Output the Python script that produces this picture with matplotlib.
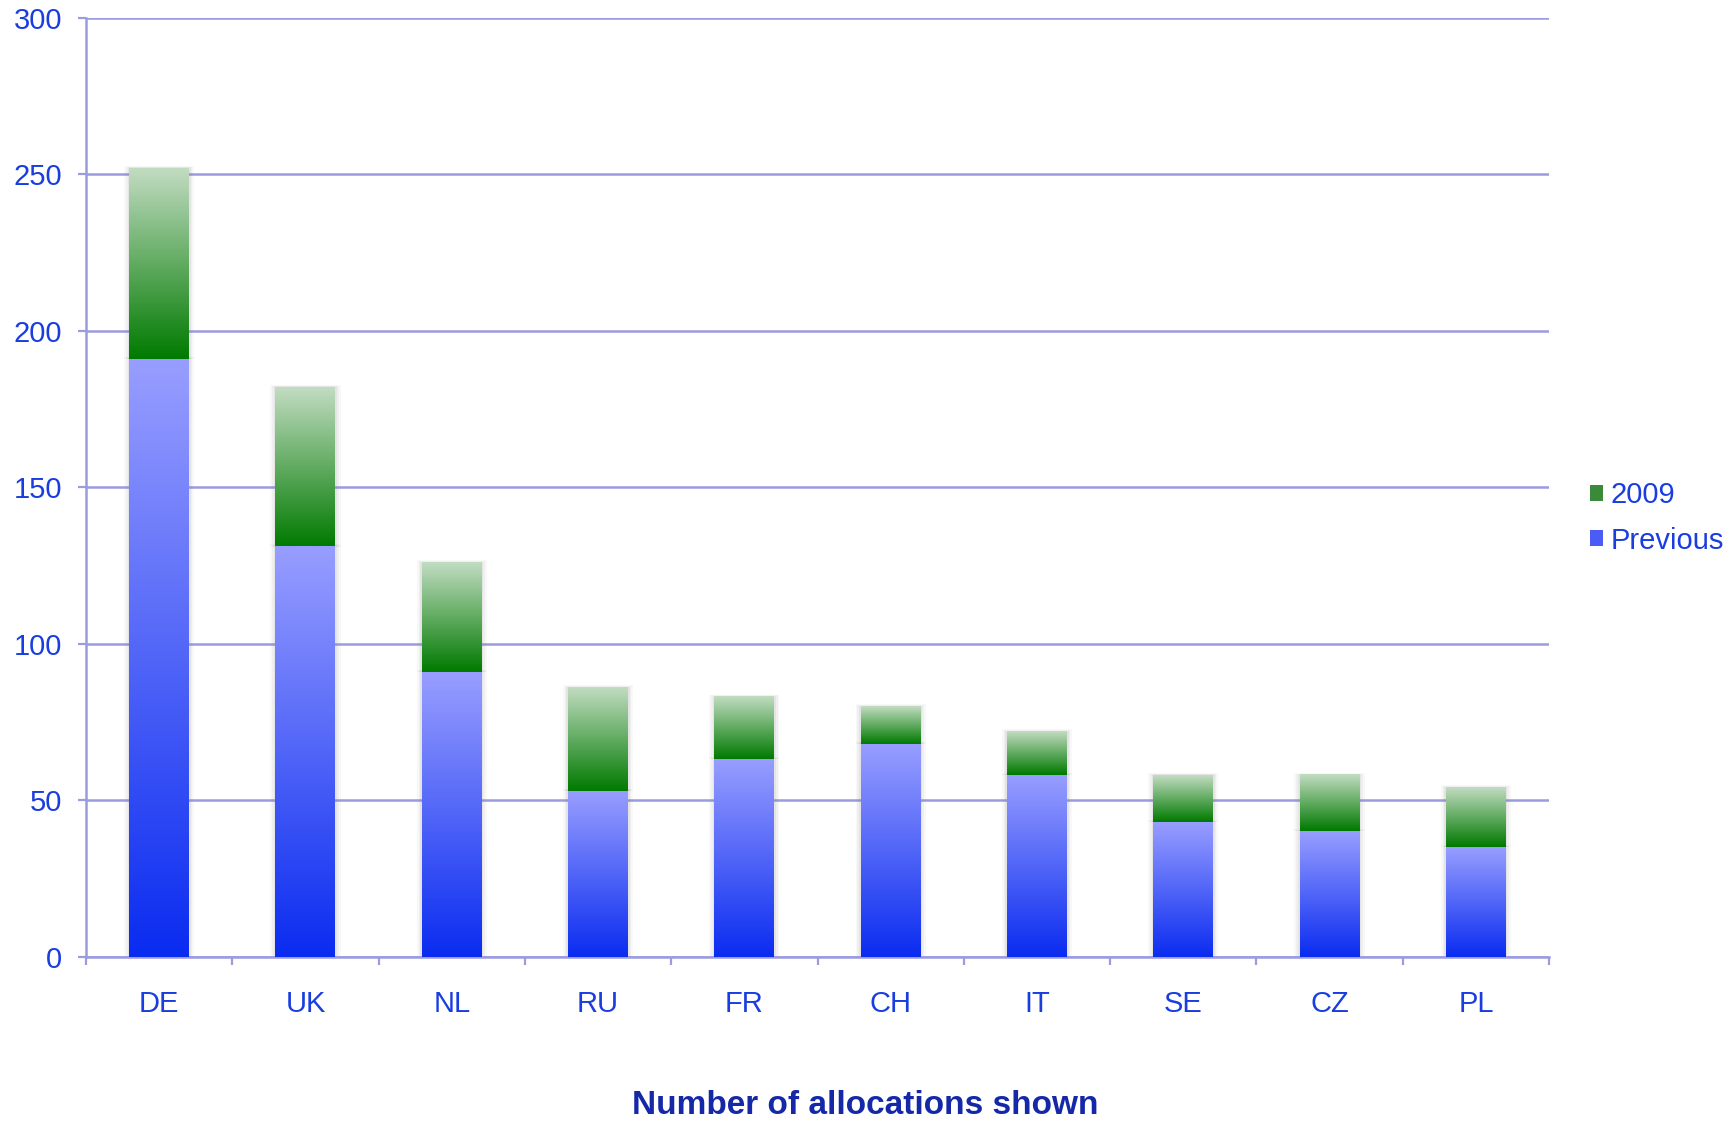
import numpy as np
import matplotlib.pyplot as plt
from matplotlib.colors import LinearSegmentedColormap
from matplotlib.patches import Rectangle, Patch

plt.rcParams['font.family'] = ['Liberation Sans', 'DejaVu Sans']

countries = ['DE', 'UK', 'NL', 'RU', 'FR', 'CH', 'IT', 'SE', 'CZ', 'PL']
previous = [191, 131, 91, 53, 63, 68, 58, 43, 40, 35]
new_2009 = [61, 51, 35, 33, 20, 12, 14, 15, 18, 19]
y_ticks = [0, 50, 100, 150, 200, 250, 300]

grid_col = '#9b9be0'
text_col = '#1a3de0'

blue_cmap = LinearSegmentedColormap.from_list('b', ['#0a2cf0', '#989eff'])
green_cmap = LinearSegmentedColormap.from_list('g', ['#007a00', '#c2dcc2'])

fig = plt.figure(figsize=(17.3, 11.26), dpi=100)
ax = fig.add_axes([0.0497, 0.1504, 0.8457, 0.8339])

x = np.arange(len(countries))
width = 0.41
b1 = ax.bar(x, previous, width, facecolor='none', edgecolor='none', label='Previous')
b2 = ax.bar(x, new_2009, width, bottom=previous, facecolor='none', edgecolor='none', label='2009')

grad = np.linspace(0, 1, 256).reshape(-1, 1)


def fill_gradient(bars, cmap):
    for p in bars:
        x0, y0 = p.get_x(), p.get_y()
        w, h = p.get_width(), p.get_height()
        # soft shadow
        for k, a in zip([0.035, 0.022, 0.011], [0.05, 0.07, 0.09]):
            ax.add_patch(Rectangle((x0 - k, y0), w + 2 * k, h + k * 20,
                                   facecolor='gray', edgecolor='none', alpha=a, zorder=2))
        ax.imshow(grad, cmap=cmap, aspect='auto', origin='lower',
                  extent=[x0, x0 + w, y0, y0 + h], zorder=3)


fill_gradient(b2, green_cmap)
fill_gradient(b1, blue_cmap)

ax.set_xlim(-0.5, len(countries) - 0.5)
ax.set_ylim(0, 300)
ax.set_yticks(y_ticks)
ax.set_xticks(x)
ax.set_xticklabels(countries)
ax.set_xticks(np.arange(-0.5, len(countries)), minor=True)
ax.tick_params(axis='x', which='major', length=0, pad=24, labelsize=21, labelcolor=text_col)
ax.tick_params(axis='x', which='minor', length=6, width=1.6, color=grid_col, direction='out')
ax.tick_params(axis='y', length=6, width=1.6, color=grid_col, pad=11, labelsize=21, labelcolor=text_col)

ax.yaxis.grid(True, color=grid_col, linewidth=1.8)
ax.set_axisbelow(True)
for s in ['top', 'right']:
    ax.spines[s].set_visible(False)
for s in ['left', 'bottom']:
    ax.spines[s].set_color(grid_col)
    ax.spines[s].set_linewidth(1.8)

handles = [Patch(facecolor='#3a8a3a', label='2009'), Patch(facecolor='#4a5cf5', label='Previous')]
leg = fig.legend(handles=handles, loc='center left', bbox_to_anchor=(0.919, 0.54), frameon=False,
                 fontsize=21, handlelength=0.45, handleheight=0.45, handletextpad=0.25,
                 labelspacing=0.6, labelcolor=text_col, borderpad=0, borderaxespad=0)

fig.text(0.5, 0.004, 'Number of allocations shown', ha='center', va='bottom',
         fontsize=24, fontweight='bold', color='#1428a8')

fig.savefig('out.png', dpi=100)
